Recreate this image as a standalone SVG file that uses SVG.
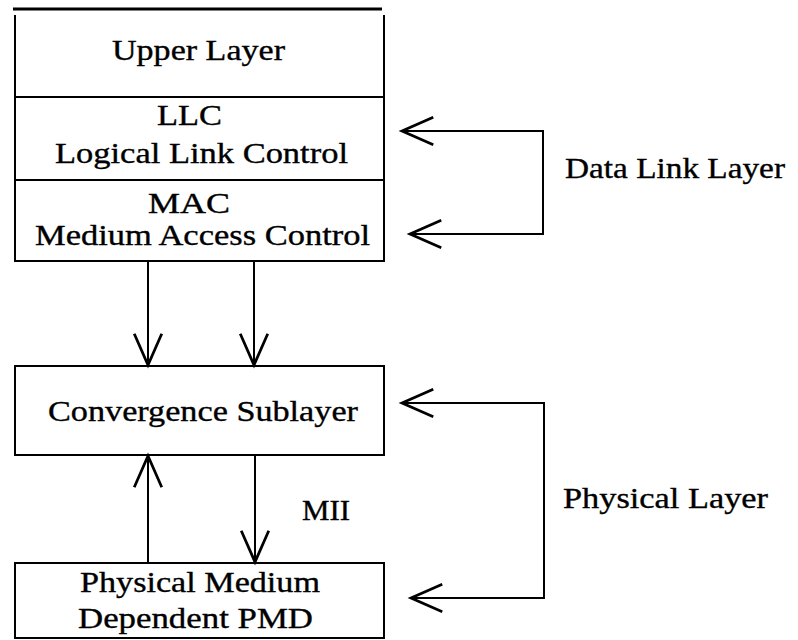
<svg xmlns="http://www.w3.org/2000/svg" width="798" height="640" viewBox="0 0 798 640">
<style>
.box{fill:none;stroke:#000;stroke-width:2}
.ln{fill:none;stroke:#000;stroke-width:2}
.t{font-family:"Liberation Serif","Times New Roman",serif;font-size:29px;fill:#000;stroke:#000;stroke-width:0.35;text-anchor:middle}
.ts{font-family:"Liberation Serif","Times New Roman",serif;font-size:29px;fill:#000;stroke:#000;stroke-width:0.35}
</style>
<defs>
<marker id="ah" markerUnits="userSpaceOnUse" markerWidth="40" markerHeight="40" refX="0" refY="0" viewBox="-30 -15 32 30" orient="auto" overflow="visible">
<path d="M-25,-11 L0,0 L-25,11" fill="none" stroke="#000" stroke-width="2.2"/>
</marker>
</defs>
<rect width="798" height="640" fill="#fff"/>
<g id="stack">
<line x1="13" y1="9" x2="382" y2="9" stroke="#000" stroke-width="3"/>
<g id="upper">
<line class="ln" x1="15" y1="15" x2="15" y2="97"/>
<line class="ln" x1="384" y1="15" x2="384" y2="97"/>
<text class="t" x="198.5" y="60" textLength="173" lengthAdjust="spacingAndGlyphs">Upper Layer</text>
</g>
<g id="llc">
<rect class="box" x="15" y="97" width="369" height="83"/>
<text class="t" x="189.5" y="125" textLength="65" lengthAdjust="spacingAndGlyphs">LLC</text>
<text class="t" x="201.5" y="163" textLength="293" lengthAdjust="spacingAndGlyphs">Logical Link Control</text>
</g>
<g id="mac">
<rect class="box" x="15" y="180" width="369" height="81"/>
<text class="t" x="189" y="213" textLength="82" lengthAdjust="spacingAndGlyphs">MAC</text>
<text class="t" x="202.5" y="245" textLength="335" lengthAdjust="spacingAndGlyphs">Medium Access Control</text>
</g>
</g>
<g id="convergence">
<rect class="box" x="15" y="366" width="369" height="89"/>
<text class="t" x="203" y="421" textLength="310" lengthAdjust="spacingAndGlyphs">Convergence Sublayer</text>
</g>
<g id="pmd">
<rect class="box" x="15" y="563" width="369" height="75"/>
<text class="t" x="200" y="592" textLength="240" lengthAdjust="spacingAndGlyphs">Physical Medium</text>
<text class="t" x="195.5" y="628" textLength="235" lengthAdjust="spacingAndGlyphs">Dependent PMD</text>
</g>
<g id="connectors">
<line class="ln" x1="148" y1="261" x2="148" y2="365" marker-end="url(#ah)"/>
<line class="ln" x1="254" y1="261" x2="254" y2="365" marker-end="url(#ah)"/>
<line class="ln" x1="148" y1="563" x2="148" y2="456" marker-end="url(#ah)"/>
<line class="ln" x1="255" y1="455" x2="255" y2="562" marker-end="url(#ah)"/>
<path class="ln" d="M403,131 H543 V234 H410" marker-end="url(#ah)"/>
<line class="ln" x1="420" y1="131" x2="402" y2="131" marker-end="url(#ah)"/>
<path class="ln" d="M403,403 H544 V598 H411" marker-end="url(#ah)"/>
<line class="ln" x1="420" y1="403" x2="402" y2="403" marker-end="url(#ah)"/>
</g>
<g id="labels">
<text class="ts" x="302" y="520" textLength="48" lengthAdjust="spacingAndGlyphs">MII</text>
<text class="ts" x="565" y="178" textLength="220" lengthAdjust="spacingAndGlyphs">Data Link Layer</text>
<text class="ts" x="563" y="508" textLength="205" lengthAdjust="spacingAndGlyphs">Physical Layer</text>
</g>
</svg>
